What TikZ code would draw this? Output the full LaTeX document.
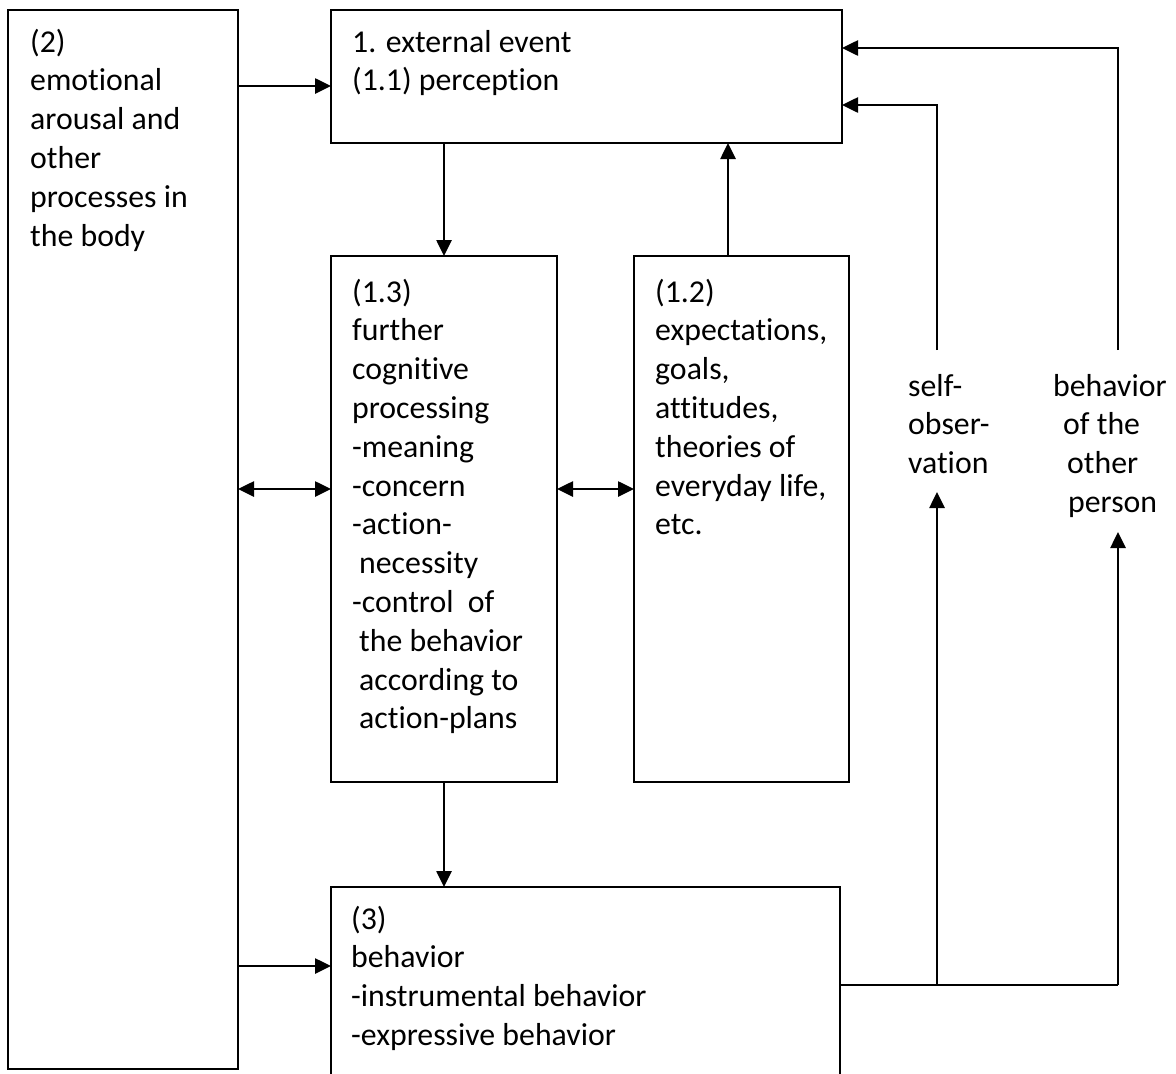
\documentclass[tikz,border=0pt]{standalone}
\usepackage{fontspec}
\setmainfont[Ligatures={NoCommon}]{Carlito}
\usetikzlibrary{arrows.meta}
\newcommand{\lines}[1]{\begin{tabular}[t]{@{}l@{}}#1\end{tabular}}
\tikzset{
  box/.style={draw, line width=2pt, inner sep=0pt, outer sep=0pt, anchor=north west},
  txt/.style={anchor=base west, inner sep=0pt, font=\fontsize{31.8}{38.8}\selectfont},
  arr/.style={line width=2.6pt, -{Triangle[length=16pt,width=15pt]}},
  dbl/.style={line width=2.6pt, {Triangle[length=16pt,width=15pt]}-{Triangle[length=16pt,width=15pt]}},
  conn/.style={line width=2.2pt},
}
\begin{document}
\begin{tikzpicture}[x=1pt,y=-1pt]
\path[use as bounding box, clip] (0,0) rectangle (1176,1074);
% boxes
\node[box, minimum width=230pt, minimum height=1059pt] (box2) at (8,10) {};
\node[box, minimum width=511pt, minimum height=133pt] (box1) at (331,10) {};
\node[box, minimum width=226pt, minimum height=526pt] (b13) at (331,256) {};
\node[box, minimum width=215pt, minimum height=526pt] (b12) at (634,256) {};
\node[box, minimum width=509pt, minimum height=220pt] (box3) at (331,887) {};
% texts
\node[txt] (t2) at (30,52) {\lines{(2)\\emotional\\arousal and\\other\\processes in\\the body}};
\node[txt] (t1) at (352,52) {\lines{1. external event\\(1.1) perception}};
\node[txt] (t13) at (352,302) {\lines{(1.3)\\further\\cognitive\\processing\\-meaning\\-concern\\-action-\\\hspace*{7pt}necessity\\-control\ \ of\\\hspace*{7pt}the behavior\\\hspace*{7pt}according to\\\hspace*{7pt}action-plans}};
\node[txt] (t12) at (655,302) {\lines{(1.2)\\expectations,\\goals,\\attitudes,\\theories of\\everyday life,\\etc.}};
\node[txt] (t3) at (351,929) {\lines{(3)\\behavior\\-instrumental behavior\\-expressive behavior}};
\node[txt] (selfobs) at (908,396) {\lines{self-\\obser-\\vation}};
\node[txt] (otherbeh) at (1053,396) {\lines{behavior\\\hspace*{10pt}of the\\\hspace*{14pt}other\\\hspace*{15pt}person}};
% coordinates
\coordinate (j1) at (937,985);
\coordinate (j2) at (1118,985);
\coordinate (s1) at (937,492);
\coordinate (o1) at (1118,532);
\coordinate (s2) at (937,350);
\coordinate (s3) at (937,105);
\coordinate (o2) at (1118,350);
\coordinate (o3) at (1118,48);
% connectors
\draw[arr] (box2.east |- 0,86) -- (box1.west |- 0,86);
\draw[arr] (box1.south -| 444,0) -- (b13.north -| 444,0);
\draw[arr] (b12.north -| 728,0) -- (box1.south -| 728,0);
\draw[dbl] (box2.east |- 0,489) -- (b13.west |- 0,489);
\draw[dbl] (b13.east |- 0,489) -- (b12.west |- 0,489);
\draw[arr] (box2.east |- 0,966) -- (box3.west |- 0,966);
\draw[arr] (b13.south -| 444,0) -- (box3.north -| 444,0);
\draw[conn] (box3.east |- j1) -- (j2);
\draw[arr] (j1) -- (s1);
\draw[arr] (j2) -- (o1);
\draw[arr] (s2) -- (s3) -- (box1.east |- s3);
\draw[arr] (o2) -- (o3) -- (box1.east |- o3);
\end{tikzpicture}
\end{document}
